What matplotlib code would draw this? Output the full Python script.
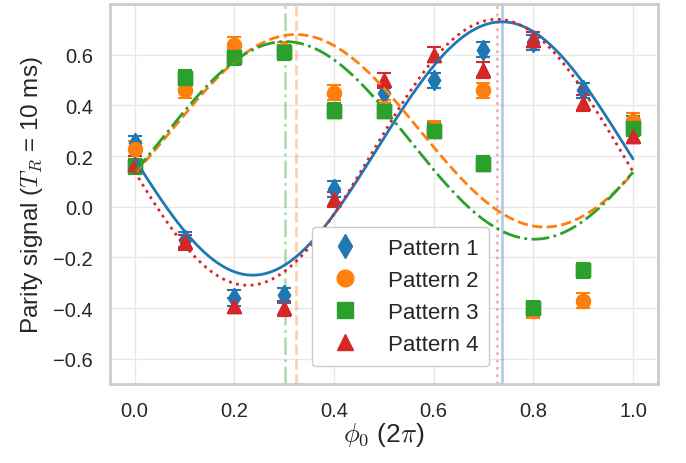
import numpy as np
import matplotlib
matplotlib.use("Agg")
import matplotlib.pyplot as plt
import seaborn as sns

# measured parity signal for each pattern
phi = [0.0, 0.1, 0.2, 0.3, 0.4, 0.5, 0.6, 0.7, 0.8, 0.9, 1.0]
pattern1 = [0.25, -0.13, -0.36, -0.35, 0.07, 0.45, 0.50, 0.62, 0.65, 0.46, 0.33]
pattern2 = [0.23, 0.46, 0.64, 0.62, 0.45, 0.39, 0.31, 0.46, -0.41, -0.37, 0.34]
pattern3 = [0.16, 0.51, 0.59, 0.61, 0.38, 0.38, 0.30, 0.17, -0.40, -0.25, 0.31]
pattern4 = [0.17, -0.14, -0.39, -0.40, 0.03, 0.50, 0.60, 0.54, 0.66, 0.41, 0.28]
err = [0.03] * len(phi)

# fitted sinusoids: offset + amp * cos(2 pi (phi - phase))
fit_offset = [0.23, 0.30, 0.262, 0.215]
fit_amp = [0.50, 0.38, 0.39, 0.525]
fit_phase = [0.737, 0.323, 0.302, 0.727]

labels = ['Pattern 1', 'Pattern 2', 'Pattern 3', 'Pattern 4']
colors = ['#1f77b4', '#ff7f0e', '#2ca02c', '#d62728']
markers = ['d', 'o', 's', '^']
styles = ['-', '--', '-.', ':']

sns.set_theme(style='whitegrid')
plt.rcParams['font.family'] = ['Liberation Sans', 'DejaVu Sans']
plt.rcParams['mathtext.fontset'] = 'cm'
plt.rcParams['grid.color'] = '#e8e8e8'

fig = plt.figure(figsize=(6.86, 4.64), dpi=100)
ax = fig.add_axes([0.160, 0.170, 0.799, 0.819])

data = [pattern1, pattern2, pattern3, pattern4]
xf = np.linspace(0, 1, 300)
for i in range(4):
    ax.errorbar(phi, data[i], yerr=err, fmt=markers[i], color=colors[i],
                markersize=10, capsize=5, capthick=1.5, elinewidth=1.5, zorder=3)
    ax.plot(phi, data[i], markers[i], color=colors[i], markersize=10, ls='none',
            label=labels[i], zorder=3)
for i in range(4):
    yf = fit_offset[i] + fit_amp[i] * np.cos(2 * np.pi * (xf - fit_phase[i]))
    ax.plot(xf, yf, ls=styles[i], color=colors[i], lw=2, zorder=4)
    ax.axvline(fit_phase[i], ls=styles[i], color=colors[i], lw=2, alpha=0.35,
               zorder=2)

ax.set_xlim(-0.05, 1.05)
ax.set_ylim(-0.7, 0.8)
ax.set_xticks([0.0, 0.2, 0.4, 0.6, 0.8, 1.0])
ax.set_yticks([-0.6, -0.4, -0.2, 0.0, 0.2, 0.4, 0.6])
ax.tick_params(labelsize=14.5, pad=6)
ax.set_xlabel(r'$\phi_0$ (2$\pi$)', fontsize=19, labelpad=0)
ax.set_ylabel(r'Parity signal ($T_R$ = 10 ms)', fontsize=17.5, labelpad=6)
for s in ax.spines.values():
    s.set_color('#cccccc')
    s.set_linewidth(2)

ax.legend(loc='lower left', bbox_to_anchor=(0.369, 0.047), borderaxespad=0,
          fontsize=16, framealpha=1, edgecolor='#cccccc', markerscale=1.2,
          labelspacing=0.5, handletextpad=0.9, borderpad=0.5)

plt.savefig('out.png')
